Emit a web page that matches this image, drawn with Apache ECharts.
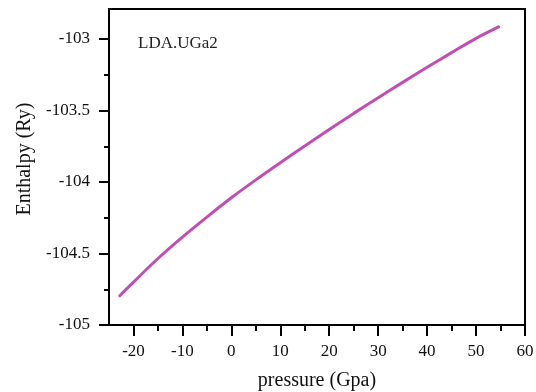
<!DOCTYPE html>
<html>
<head>
<meta charset="utf-8">
<script src="https://cdn.jsdelivr.net/npm/echarts@6/dist/echarts.min.js"></script>
<style>
  html, body { margin: 0; padding: 0; background: #fff; }
  #chart { width: 536px; height: 392px; }
</style>
</head>
<body>
<div id="chart"></div>
<script>
// pressure (GPa) vs enthalpy (Ry)
const pressure = [-22.8, -20, -15, -10, -5, 0, 5, 10, 15, 20, 25, 30, 35, 40, 45, 50, 54.6];
const enthalpy = [-104.795, -104.70, -104.535, -104.385, -104.245, -104.11, -103.985, -103.865, -103.748,
  -103.633, -103.52, -103.41, -103.303, -103.198, -103.095, -102.995, -102.915];

const xTicks = [-20, -10, 0, 10, 20, 30, 40, 50, 60];
const xMinorTicks = [-15, -5, 5, 15, 25, 35, 45, 55];
const yTicks = [-105, -104.5, -104, -103.5, -103];
const yMinorTicks = [-104.75, -104.25, -103.75, -103.25];

const FONT = 'Liberation Serif';
const chart = echarts.init(document.getElementById('chart'), null, { renderer: 'canvas' });

const baseX = { type: 'value', min: -25, max: 60, position: 'bottom', splitLine: { show: false } };
const baseY = { type: 'value', min: -105, max: -102.79, position: 'left', splitLine: { show: false } };

chart.setOption({
  animation: false,
  backgroundColor: '#fff',
  title: {
    text: 'LDA.UGa2', left: 133, top: 30,
    textStyle: { fontFamily: FONT, fontSize: 17, fontWeight: 'normal', color: '#222' }
  },
  grid: {
    left: 109, right: 11, top: 9, bottom: 67,
    outerBoundsMode: 'none',
    show: true, borderColor: '#000', borderWidth: 2, backgroundColor: 'transparent'
  },
  xAxis: [
    Object.assign({}, baseX, {
      name: 'pressure (Gpa)', nameLocation: 'middle', nameGap: 46,
      nameTextStyle: { fontFamily: FONT, fontSize: 20, color: '#111' },
      axisLine: { onZero: false, lineStyle: { color: '#000', width: 2 } },
      axisTick: { customValues: xTicks, length: 11, lineStyle: { color: '#000', width: 2 } },
      axisLabel: { customValues: xTicks, margin: 18, fontFamily: FONT, fontSize: 17, color: '#111' }
    }),
    Object.assign({}, baseX, {
      axisLine: { show: false, onZero: false },
      axisTick: { customValues: xMinorTicks, length: 6, lineStyle: { color: '#000', width: 2 } },
      axisLabel: { show: false }
    })
  ],
  yAxis: [
    Object.assign({}, baseY, {
      name: 'Enthalpy (Ry)', nameLocation: 'middle', nameGap: 74,
      nameTextStyle: { fontFamily: FONT, fontSize: 20, color: '#111', padding: [0, 0, 0, 16] },
      axisLine: { onZero: false, lineStyle: { color: '#000', width: 2 } },
      axisTick: { customValues: yTicks, length: 10, lineStyle: { color: '#000', width: 2 } },
      axisLabel: { customValues: yTicks, margin: 19, fontFamily: FONT, fontSize: 17, color: '#111' }
    }),
    Object.assign({}, baseY, {
      axisLine: { show: false, onZero: false },
      axisTick: { customValues: yMinorTicks, length: 5, lineStyle: { color: '#000', width: 2 } },
      axisLabel: { show: false }
    })
  ],
  series: [{
    type: 'line',
    data: pressure.map((p, i) => [p, enthalpy[i]]),
    smooth: 0.3,
    showSymbol: false,
    lineStyle: { color: '#c04fb4', width: 3, cap: 'round' }
  }]
});
</script>
</body>
</html>
